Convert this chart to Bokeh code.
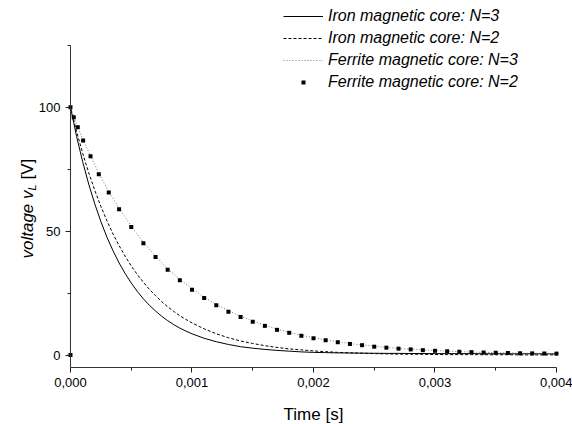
from bokeh.plotting import figure
from bokeh.models import (Range1d, FixedTicker, CustomJSTickFormatter, Legend,
                          LegendItem, Label)
from bokeh.embed import file_html
from bokeh.resources import INLINE

# ---- data ----
time_iron = [0.0, 0.0, 0.00005, 0.0001, 0.00015, 0.0002, 0.00025, 0.0003, 0.00035,
             0.0004, 0.00045, 0.0005, 0.00055, 0.0006, 0.00065, 0.0007, 0.00075,
             0.0008, 0.00085, 0.0009, 0.00095, 0.001, 0.0011, 0.0012, 0.0013,
             0.0014, 0.0015, 0.0016, 0.0017, 0.0018, 0.0019, 0.002, 0.0021, 0.0022,
             0.0023, 0.0024, 0.0025, 0.0026, 0.0027, 0.0028, 0.0029, 0.003, 0.0031,
             0.0032, 0.0033, 0.0034, 0.0035, 0.0036, 0.0037, 0.0038, 0.0039, 0.004]
iron_n3 = [0.0, 100.0, 88.3, 78.1, 69.0, 61.0, 53.9, 47.6, 42.1, 37.2, 32.9, 29.1,
           25.7, 22.7, 20.1, 17.8, 15.7, 13.9, 12.3, 10.9, 9.7, 8.6, 6.8, 5.4, 4.3,
           3.4, 2.8, 2.3, 1.9, 1.6, 1.3, 1.1, 1.0, 0.9, 0.85, 0.8, 0.75, 0.7, 0.7,
           0.65, 0.65, 0.6, 0.6, 0.6, 0.6, 0.55, 0.55, 0.55, 0.55, 0.55, 0.5, 0.5]
iron_n2 = [0.0, 100.0, 90.3, 81.5, 73.6, 66.5, 60.0, 54.2, 48.9, 44.2, 39.9, 36.0,
           32.5, 29.4, 26.5, 24.0, 21.6, 19.5, 17.6, 15.9, 14.4, 13.0, 10.6, 8.6,
           7.0, 5.7, 4.7, 3.8, 3.1, 2.5, 2.1, 1.7, 1.4, 1.1, 0.9, 0.75, 0.6, 0.5,
           0.4, 0.35, 0.3, 0.25, 0.2, 0.2, 0.2, 0.15, 0.15, 0.15, 0.1, 0.1, 0.1, 0.1]

time_ferrite = [0.0, 0.0, 0.000027, 0.00006, 0.000104, 0.000165, 0.000233, 0.000315,
                0.0004, 0.0005, 0.0006, 0.0007, 0.0008, 0.0009, 0.001, 0.0011,
                0.0012, 0.0013, 0.0014, 0.0015, 0.0016, 0.0017, 0.0018, 0.0019,
                0.002, 0.0021, 0.0022, 0.0023, 0.0024, 0.0025, 0.0026, 0.0027,
                0.0028, 0.0029, 0.003, 0.0031, 0.0032, 0.0033, 0.0034, 0.0035,
                0.0036, 0.0037, 0.0038, 0.0039, 0.004]
ferrite_n3 = [0.0, 100.0, 96.1, 92.2, 86.8, 80.5, 73.4, 66.0, 59.3, 52.1, 45.5, 40.0,
              34.8, 30.6, 26.8, 23.4, 20.5, 17.9, 15.7, 13.8, 12.1, 10.5, 9.2, 8.0,
              7.0, 6.2, 5.4, 4.7, 4.1, 3.6, 3.1, 2.7, 2.4, 2.1, 1.85, 1.6, 1.4, 1.25,
              1.1, 1.0, 0.9, 0.8, 0.75, 0.7, 0.65]
ferrite_n2 = [0.0, 100.0, 96.0, 92.0, 86.6, 80.2, 73.0, 65.6, 58.9, 51.7, 45.1, 39.6,
              34.4, 30.2, 26.4, 23.0, 20.1, 17.5, 15.4, 13.5, 11.8, 10.2, 9.0, 7.8,
              6.8, 6.0, 5.2, 4.5, 4.0, 3.4, 3.0, 2.6, 2.3, 2.0, 1.75, 1.55, 1.35, 1.2,
              1.05, 0.95, 0.85, 0.75, 0.7, 0.65, 0.6]

x_ticks = [0.0, 0.001, 0.002, 0.003, 0.004]
x_minor = [0.0005, 0.0015, 0.0025, 0.0035]
y_ticks = [0, 50, 100]
y_minor = [25, 75, 125]

series_names = ["Iron magnetic core: N=3", "Iron magnetic core: N=2",
                "Ferrite magnetic core: N=3", "Ferrite magnetic core: N=2"]

FONT = "Liberation Sans"
W, H = 572, 424

# frame fills the canvas; axes are pinned at fixed data locations
p = figure(width=W, height=H, output_backend="svg", toolbar_location=None,
           x_range=Range1d(-0.000576, 0.0041317), y_range=Range1d(-28.0, 143.1),
           min_border_left=0, min_border_right=0, min_border_top=0,
           min_border_bottom=0)
p.outline_line_color = None
p.grid.visible = False
p.background_fill_color = "white"

r1 = p.line(time_iron, iron_n3, line_color="black", line_width=1)
r2 = p.line(time_iron, iron_n2, line_color="black", line_width=1, line_dash="3 2")
r3 = p.line(time_ferrite, ferrite_n3, line_color="#777777", line_width=1,
            line_dash="1 2")
r4 = p.scatter(time_ferrite, ferrite_n2, marker="square", size=4,
               fill_color="black", line_color=None)

for ax in (p.xaxis[0], p.yaxis[0]):
    ax.axis_line_color = "#333333"
    ax.major_tick_line_color = "#222222"
    ax.minor_tick_line_color = "#222222"
    ax.major_tick_in = 0
    ax.major_tick_out = 5
    ax.minor_tick_in = 0
    ax.minor_tick_out = 3
    ax.major_label_text_font = FONT
    ax.major_label_text_font_size = "13px"
    ax.major_label_text_color = "black"
    ax.major_label_standoff = 5

p.xaxis.fixed_location = -5.0
p.yaxis.fixed_location = 0.0
p.xaxis.ticker = FixedTicker(ticks=x_ticks, minor_ticks=x_minor)
p.yaxis.ticker = FixedTicker(ticks=y_ticks, minor_ticks=y_minor)
p.xaxis.bounds = (0, 0.004)
p.yaxis.bounds = (-5.0, 125)
p.xaxis.formatter = CustomJSTickFormatter(
    code="return tick.toFixed(3).replace('.', ',');")

legend = Legend(items=[LegendItem(label=series_names[0], renderers=[r1]),
                       LegendItem(label=series_names[1], renderers=[r2]),
                       LegendItem(label=series_names[2], renderers=[r3]),
                       LegendItem(label=series_names[3], renderers=[r4])],
                location=(283, 333))
legend.label_text_font = FONT
legend.label_text_font_style = "italic"
legend.label_text_font_size = "16px"
legend.label_text_color = "black"
legend.glyph_width = 40
legend.glyph_height = 10
legend.label_height = 18
legend.spacing = 4
legend.padding = 0
legend.margin = 0
legend.label_standoff = 5
legend.border_line_color = None
legend.background_fill_alpha = 0
p.add_layout(legend)

# axis titles (screen units: from the canvas's bottom-left)
p.add_layout(Label(x=313, y=10, x_units="screen", y_units="screen",
                   text="Time [s]", text_font=FONT, text_font_size="17px",
                   text_align="center", text_baseline="alphabetic",
                   text_color="black"))
p.add_layout(Label(x=27, y=166, x_units="screen", y_units="screen",
                   text="voltage v", text_font=FONT, text_font_style="italic",
                   text_font_size="17px", angle=90, angle_units="deg",
                   text_align="left", text_baseline="middle",
                   text_color="black"))
p.add_layout(Label(x=31, y=234, x_units="screen", y_units="screen",
                   text="L", text_font=FONT, text_font_style="italic",
                   text_font_size="11px", angle=90, angle_units="deg",
                   text_align="left", text_baseline="middle",
                   text_color="black"))
p.add_layout(Label(x=27, y=245, x_units="screen", y_units="screen",
                   text="[V]", text_font=FONT,
                   text_font_size="17px", angle=90, angle_units="deg",
                   text_align="left", text_baseline="middle",
                   text_color="black"))

open("out.html", "w").write(file_html(p, INLINE))
